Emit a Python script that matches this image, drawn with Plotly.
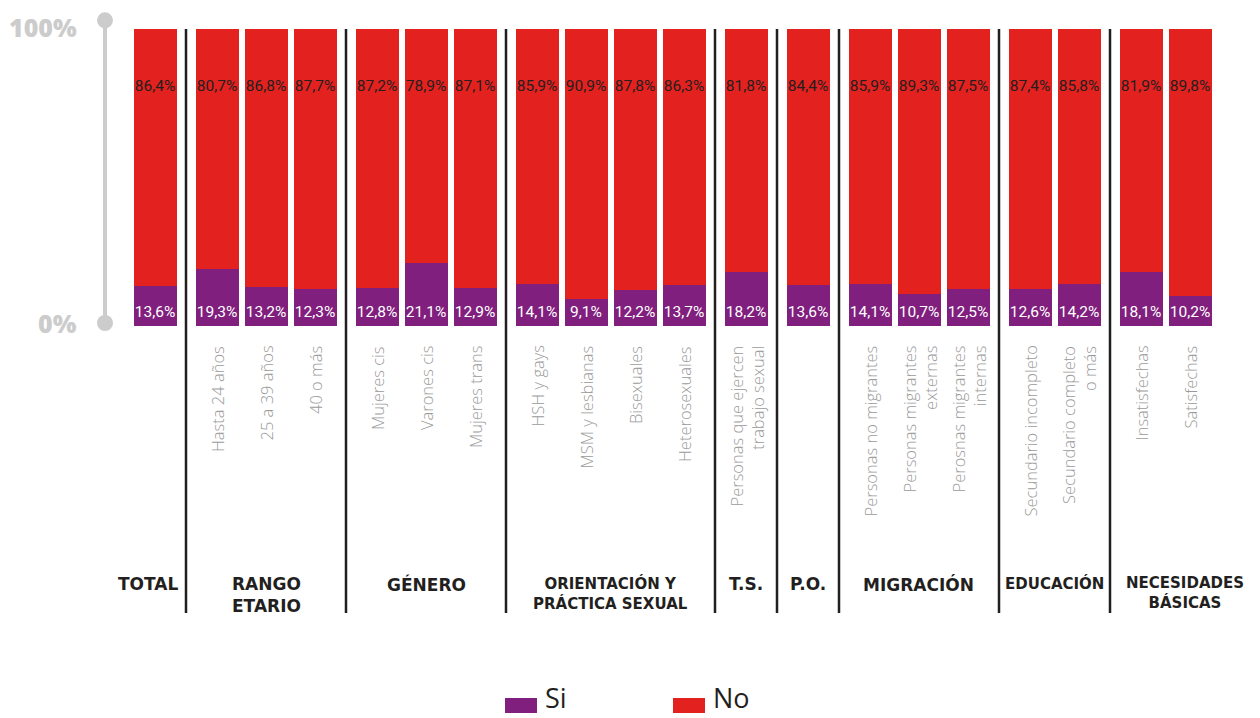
import plotly.graph_objects as go

# ---------------- data ----------------
categories = ["Total",
              "Hasta 24 años", "25 a 39 años", "40 o más",
              "Mujeres cis", "Varones cis", "Mujeres trans",
              "HSH y gays", "MSM y lesbianas", "Bisexuales", "Heterosexuales",
              "Personas que ejercen trabajo sexual",
              "P.O.",
              "Personas no migrantes", "Personas migrantes externas", "Perosnas migrantes internas",
              "Secundario incompleto", "Secundario completo o más",
              "Insatisfechas", "Satisfechas"]
tick_labels = ["",
               "Hasta 24 años", "25 a 39 años", "40 o más",
               "Mujeres cis", "Varones cis", "Mujeres trans",
               "HSH y gays", "MSM y lesbianas", "Bisexuales", "Heterosexuales",
               "Personas que ejercen<br>trabajo sexual",
               "",
               "Personas no migrantes", "Personas migrantes<br>externas", "Perosnas migrantes<br>internas",
               "Secundario incompleto", "Secundario completo<br>o más",
               "Insatisfechas", "Satisfechas"]
si_values = [13.6, 19.3, 13.2, 12.3, 12.8, 21.1, 12.9, 14.1, 9.1, 12.2, 13.7,
             18.2, 13.6, 14.1, 10.7, 12.5, 12.6, 14.2, 18.1, 10.2]
no_values = [86.4, 80.7, 86.8, 87.7, 87.2, 78.9, 87.1, 85.9, 90.9, 87.8, 86.3,
             81.8, 84.4, 85.9, 89.3, 87.5, 87.4, 85.8, 81.9, 89.8]
group_names = ["TOTAL", "RANGO<br>ETARIO", "GÉNERO", "ORIENTACIÓN Y<br>PRÁCTICA SEXUAL",
               "T.S.", "P.O.", "MIGRACIÓN", "EDUCACIÓN", "NECESIDADES<br>BÁSICAS"]
group_sizes = [1, 3, 3, 4, 1, 1, 3, 2, 2]
axis_labels = ["0%", "100%"]

# ---------------- layout helpers ----------------
# page body has an 8px margin; the figure is sized so it ends at the window edge
BODY = 8
WIN_W, WIN_H = 1260, 718
W, H = WIN_W - BODY, WIN_H - BODY
REF_L, REF_T, REF_B = 80, 20, 326       # plot area in window pixels (top = axis cap)
BAR_TOP = 29                            # window pixel of 100 %
ML, MT = REF_L - BODY, REF_T - BODY
MB = H - (REF_B - BODY)
Y_MAX = 100 * (REF_B - REF_T) / (REF_B - BAR_TOP)

def py(p):  # window pixel y -> paper y
    return (REF_B - p) / (REF_B - REF_T)

def pxp(p):  # window pixel x -> paper x
    return (p - REF_L) / (WIN_W - REF_L)

START, STEP, GAP = 155, 49, 62
BAR_W = 43
PURPLE = "#801f7e"
RED = "#e3221f"

xs = []
group_bounds = []
cur = START
for gi, n in enumerate(group_sizes):
    if gi > 0:
        cur += GAP
    members = []
    for k in range(n):
        if k > 0:
            cur += STEP
        xs.append(cur)
        members.append(cur)
    group_bounds.append(members)

seps = [group_bounds[i][-1] + GAP / 2 for i in range(len(group_bounds) - 1)]
header_edges = [109] + seps + [WIN_W]

def fmt(v):
    return f"{v:.1f}%".replace(".", ",")

fig = go.Figure()
fig.add_trace(go.Bar(x=xs, y=si_values, width=BAR_W, name="Si",
                     marker=dict(color=PURPLE, line=dict(width=0)),
                     customdata=categories, hovertemplate="%{customdata}<extra>Si</extra>"))
fig.add_trace(go.Bar(x=xs, y=no_values, width=BAR_W, name="No",
                     marker=dict(color=RED, line=dict(width=0)),
                     customdata=categories, hovertemplate="%{customdata}<extra>No</extra>"))

LABEL_FONT = "Roboto"
fig.add_trace(go.Scatter(x=xs, y=[80.5] * len(xs), mode="text",
                         text=[fmt(v) for v in no_values],
                         textfont=dict(family=LABEL_FONT, size=15.5, color="#231f20"),
                         hoverinfo="skip", showlegend=False, cliponaxis=False))
fig.add_trace(go.Scatter(x=xs, y=[4.4] * len(xs), mode="text",
                         text=[fmt(v) for v in si_values],
                         textfont=dict(family=LABEL_FONT, size=15.5, color="#ffffff"),
                         hoverinfo="skip", showlegend=False, cliponaxis=False))

# decorative axis line with dots
axis_ends = [1, Y_MAX - 0.1]
fig.add_trace(go.Scatter(x=[105, 105], y=axis_ends, mode="lines+markers",
                         line=dict(color="#cccccc", width=4),
                         marker=dict(color="#cccccc", size=16),
                         hoverinfo="skip", showlegend=False, cliponaxis=False))

annotations = []
shapes = []
# axis end labels
AX_FONT = dict(family="Open Sans", size=25, color="#cccccc", weight=800)
annotations.append(dict(x=pxp(79), xref="paper", y=axis_ends[0], yref="y", text=axis_labels[0],
                        xanchor="right", yanchor="middle", showarrow=False, font=AX_FONT))
annotations.append(dict(x=pxp(79), xref="paper", y=py(BODY), yref="paper", text=axis_labels[1],
                        xanchor="right", yanchor="top", showarrow=False, font=AX_FONT))

# category tick labels (rotated)
for x, lab in zip(xs, tick_labels):
    if not lab:
        continue
    annotations.append(dict(x=x, xref="x", y=py(344), yref="paper", text=lab,
                            textangle=-90, xanchor="center", yanchor="top", align="right",
                            showarrow=False,
                            font=dict(family="Open Sans", size=16.5, color="#9a9a9a", weight=300)))

# group headers and separators
for gi, name in enumerate(group_names):
    cx = (header_edges[gi] + header_edges[gi + 1]) / 2
    small = name.startswith("ORIENT") or name.startswith("EDUC") or name.startswith("NECES")
    annotations.append(dict(x=pxp(cx), xref="paper", y=py(572), yref="paper", text=name,
                            xanchor="center", yanchor="top", align="center", showarrow=False,
                            font=dict(family="DejaVu Sans", size=15 if small else 17,
                                      color="#231f20", weight=700)))
for sep in seps:
    shapes.append(dict(type="line", xref="x", yref="paper", x0=sep, x1=sep,
                       y0=py(613), y1=py(BAR_TOP), line=dict(color="#231f20", width=2.5)))

# manual legend
for col, lab, lx in [(PURPLE, "Si", 505), (RED, "No", 673)]:
    shapes.append(dict(type="rect", xref="paper", yref="paper",
                       x0=pxp(lx), x1=pxp(lx + 32), y0=py(713), y1=py(698),
                       fillcolor=col, line=dict(width=0)))
    annotations.append(dict(x=pxp(lx + 38), xref="paper", y=py(WIN_H), yref="paper", text=lab,
                            xanchor="left", yanchor="bottom", showarrow=False,
                            font=dict(family="Open Sans", size=27, color="#231f20")))

fig.update_layout(
    width=W, height=H,
    margin=dict(l=ML, r=0, t=MT, b=MB),
    paper_bgcolor="white", plot_bgcolor="white",
    barmode="stack", barnorm="percent", showlegend=False,
    xaxis=dict(range=[REF_L, WIN_W], visible=False, fixedrange=True),
    yaxis=dict(range=[0, Y_MAX], showticklabels=False,
               showgrid=False, zeroline=False, showline=False, ticks="",
               fixedrange=True),
    annotations=annotations, shapes=shapes,
)

fig.write_html("out.html")
